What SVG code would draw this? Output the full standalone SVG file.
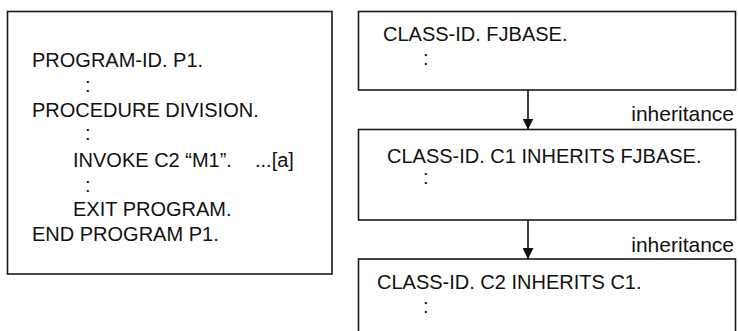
<svg xmlns="http://www.w3.org/2000/svg" width="738" height="331" viewBox="0 0 738 331">
<style>
.box{fill:#fff;stroke:#1a1a1a;stroke-width:1.6}
.t{font-family:"Liberation Sans",Arial,sans-serif;font-size:20px;fill:#111}
.lbl{font-family:"Liberation Sans",Arial,sans-serif;font-size:21px;fill:#111}
.con{stroke:#111;stroke-width:1.6;fill:none}
</style>
<defs>
<marker id="ah" markerWidth="11" markerHeight="11" refX="11" refY="5.5" orient="auto" markerUnits="userSpaceOnUse" viewBox="0 0 11 11">
<path d="M0,0 L11,5.5 L0,11 Z" fill="#111"/>
</marker>
</defs>
<rect width="738" height="331" fill="#fff"/>
<g id="program">
<rect class="box" x="7.5" y="11.5" width="324.5" height="262.5"/>
<text class="t" x="32" y="67">PROGRAM-ID. P1.</text>
<text class="t" x="85" y="92">:</text>
<text class="t" x="32" y="117">PROCEDURE DIVISION.</text>
<text class="t" x="85" y="140">:</text>
<text class="t" x="73" y="167">INVOKE C2 “M1”.</text>
<text class="t" x="255" y="167">...[a]</text>
<text class="t" x="85" y="192">:</text>
<text class="t" x="73" y="216">EXIT PROGRAM.</text>
<text class="t" x="32" y="241">END PROGRAM P1.</text>
</g>
<g id="fjbase">
<rect class="box" x="358.5" y="11.5" width="377" height="78.5"/>
<text class="t" x="383" y="41">CLASS-ID. FJBASE.</text>
<text class="t" x="423" y="65">:</text>
</g>
<g id="c1">
<rect class="box" x="358.5" y="129.5" width="377" height="90.5"/>
<text class="t" x="387" y="163">CLASS-ID. C1 INHERITS FJBASE.</text>
<text class="t" x="423" y="184">:</text>
</g>
<g id="c2">
<rect class="box" x="358.5" y="259" width="377" height="80"/>
<text class="t" x="377" y="289">CLASS-ID. C2 INHERITS C1.</text>
<text class="t" x="423" y="313">:</text>
</g>
<g id="connectors">
<line class="con" x1="528" y1="90" x2="528" y2="129.5" marker-end="url(#ah)"/>
<line class="con" x1="528" y1="220" x2="528" y2="259" marker-end="url(#ah)"/>
<text class="lbl" x="734" y="121" text-anchor="end">inheritance</text>
<text class="lbl" x="734" y="252" text-anchor="end">inheritance</text>
</g>
</svg>
